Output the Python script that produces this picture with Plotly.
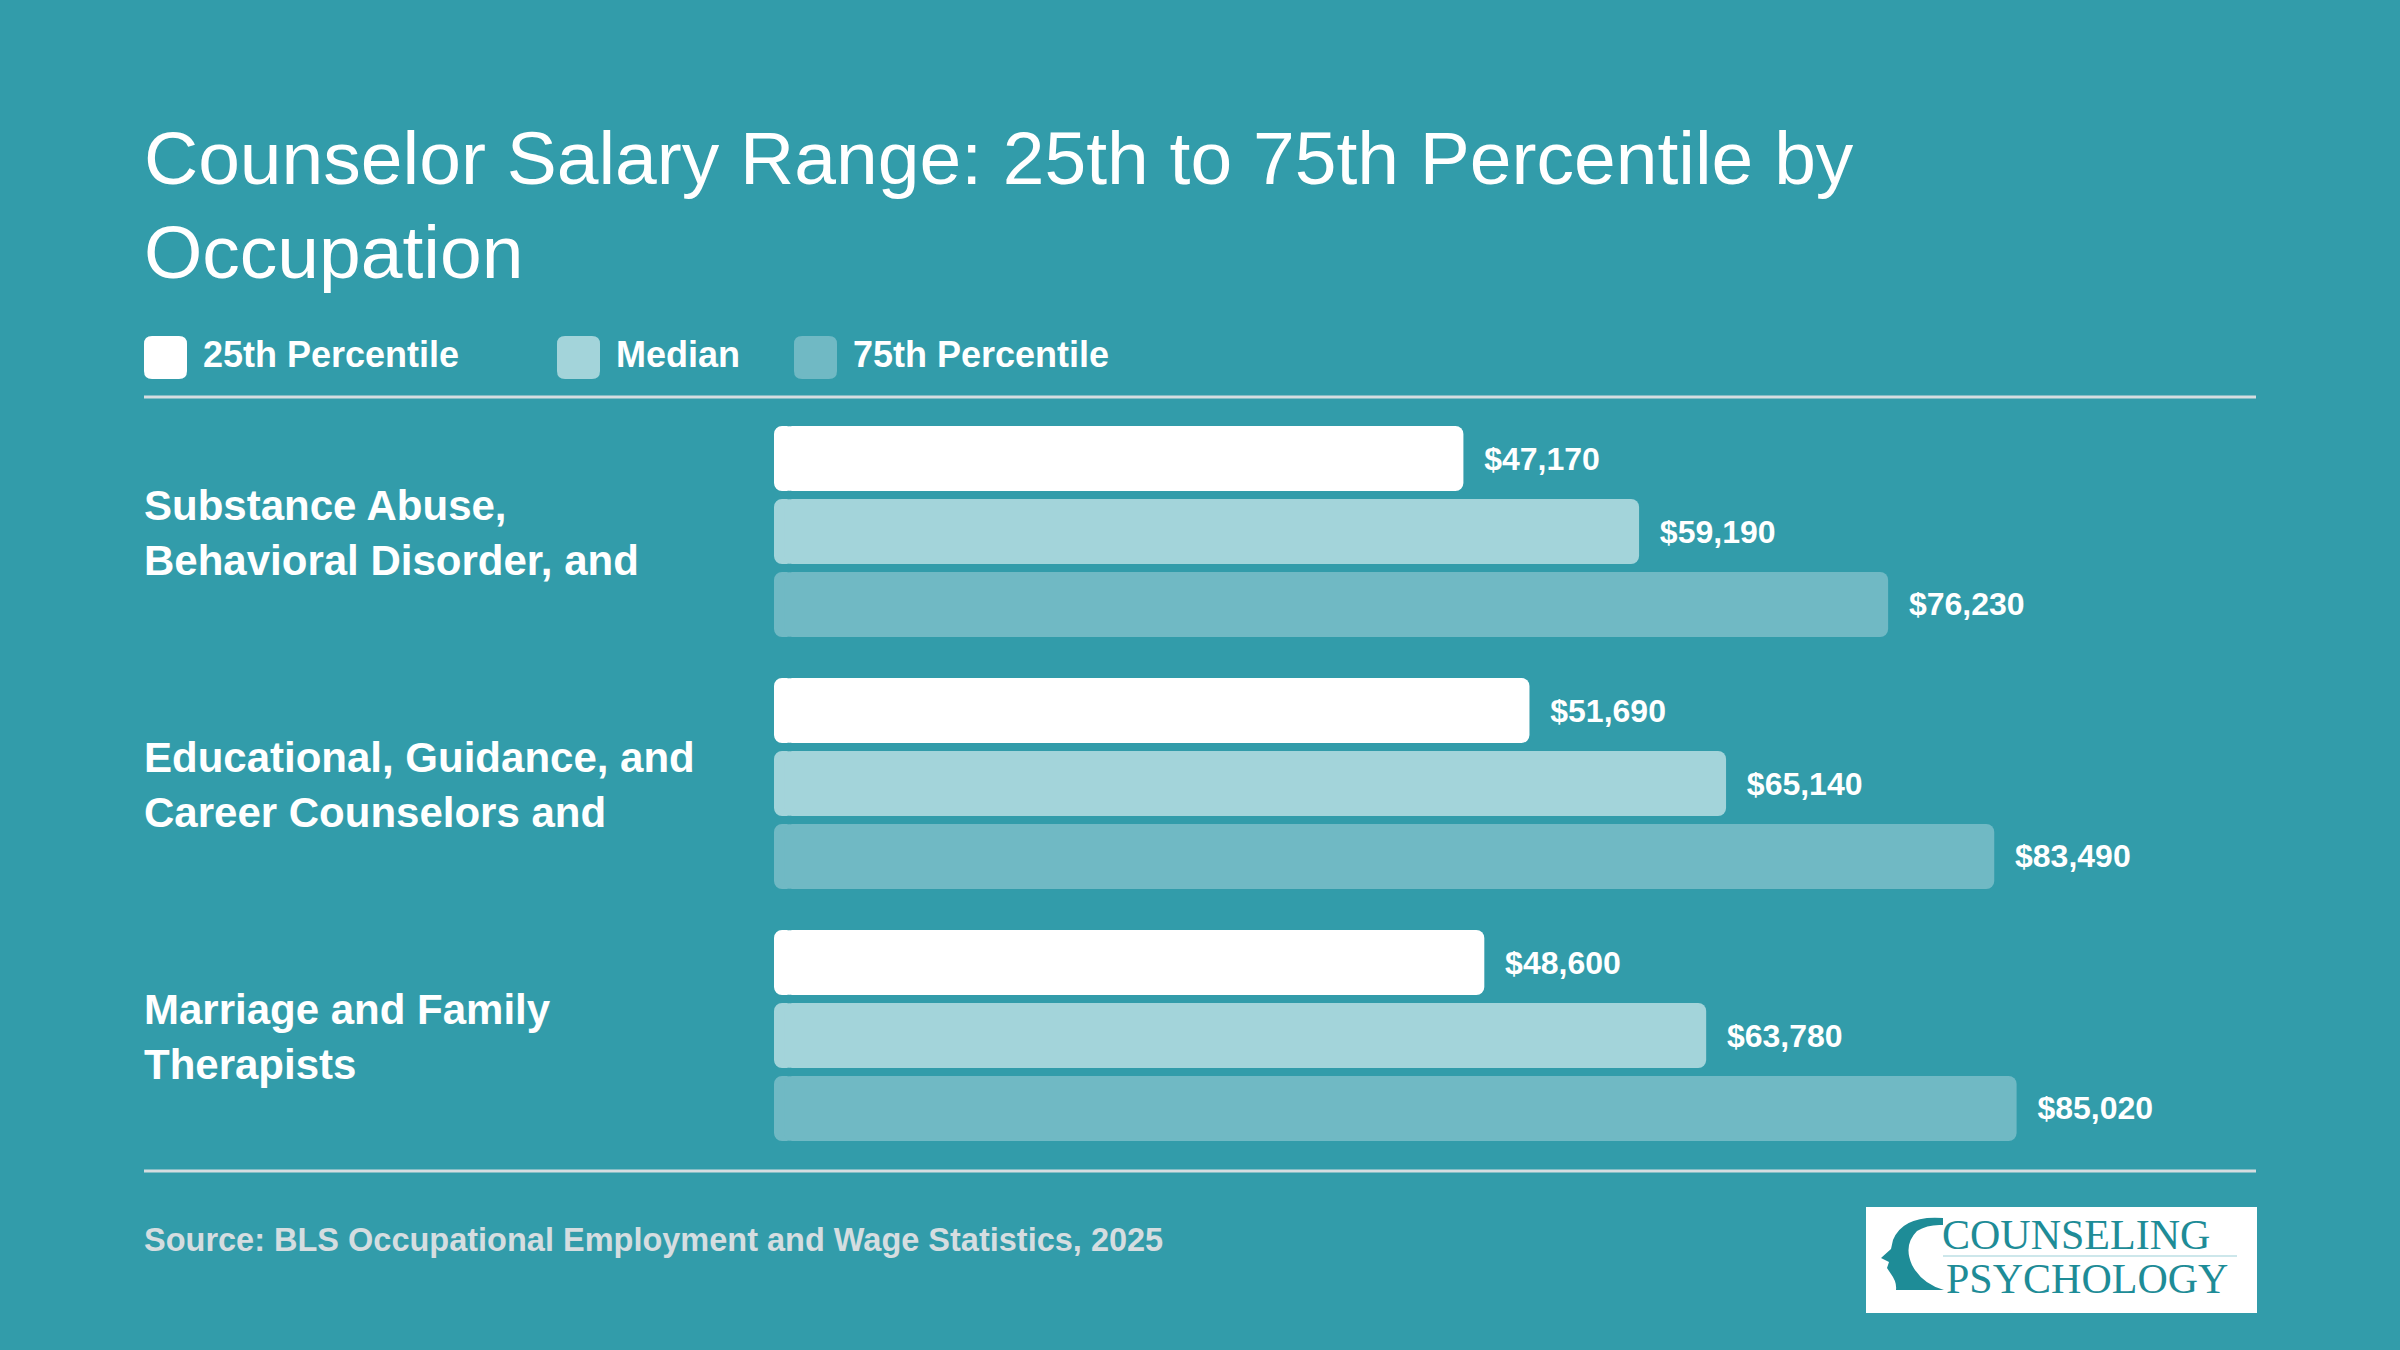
import plotly.graph_objects as go

# ---------------- data ----------------
title_lines = ["Counselor Salary Range: 25th to 75th Percentile by", "Occupation"]
occupation_lines = [
    ["Substance Abuse,", "Behavioral Disorder, and"],
    ["Educational, Guidance, and", "Career Counselors and"],
    ["Marriage and Family", "Therapists"],
]
occupations = [" ".join(l) for l in occupation_lines]
series_names = ["25th Percentile", "Median", "75th Percentile"]
p25 = [47170, 51690, 48600]
median = [59190, 65140, 63780]
p75 = [76230, 83490, 85020]
source_text = "Source: BLS Occupational Employment and Wage Statistics, 2025"
logo_lines = ["COUNSELING", "PSYCHOLOGY"]

# ---------------- style ----------------
W, H = 2400, 1350
BG = "#329CAA"
COLORS = ["#FFFFFF", "#A3D4DA", "#70B9C4"]
RULE = "#D5DDE0"
LOGO_TEAL = "#1E8C97"
SANS = "Liberation Sans, Arial, Helvetica, sans-serif"
SERIF = "Liberation Serif, Times New Roman, serif"
X_MAX = 101400          # x-axis range
CAP = 1400              # length (in axis units) of the rounded left cap piece


def X(px):
    return px / W


def Y(py):
    return 1 - py / H


def rrect(x0, y0, x1, y1, r):
    """rounded rectangle path in paper coords from pixel coords"""
    def p(x, y):
        return f"{X(x)},{Y(y)}"
    return (f"M {p(x0 + r, y0)} L {p(x1 - r, y0)} Q {p(x1, y0)} {p(x1, y0 + r)} "
            f"L {p(x1, y1 - r)} Q {p(x1, y1)} {p(x1 - r, y1)} "
            f"L {p(x0 + r, y1)} Q {p(x0, y1)} {p(x0, y1 - r)} "
            f"L {p(x0, y0 + r)} Q {p(x0, y0)} {p(x0 + r, y0)} Z")


fig = go.Figure()
for k, (name, vals, col) in enumerate(zip(series_names, [p25, median, p75], COLORS)):
    grp = f"g{k}"
    # left rounded cap: drawn from CAP back to 0 so its rounded end sits at the axis origin
    fig.add_trace(go.Bar(
        y=occupations, x=[-CAP] * len(vals), base=[CAP] * len(vals),
        orientation="h", offsetgroup=grp, name=name,
        marker=dict(color=col, cornerradius=8, line=dict(width=0)),
        hoverinfo="skip", showlegend=False,
    ))
    # main bar: from CAP/2 to the value (rounded at the value end)
    fig.add_trace(go.Bar(
        y=occupations, x=[v - CAP / 2 for v in vals], base=[CAP / 2] * len(vals),
        orientation="h", offsetgroup=grp, name=name,
        customdata=vals,
        marker=dict(color=col, cornerradius=8, line=dict(width=0)),
        texttemplate="\u00a0\u00a0%{customdata:$,}", textposition="outside",
        textfont=dict(family=SANS, size=32, color="white", weight=700),
        constraintext="none", cliponaxis=False, hoverinfo="skip",
        showlegend=False,
    ))

plot_top, plot_bot = 405.5, 1161.5
fig.update_layout(
    width=W, height=H,
    margin=dict(l=0, r=0, t=0, b=0),
    paper_bgcolor=BG, plot_bgcolor=BG,
    barmode="group", bargap=0.131, bargroupgap=0.11,
    xaxis=dict(domain=[X(774), X(2256)], range=[0, X_MAX], visible=False, fixedrange=True),
    yaxis=dict(domain=[Y(plot_bot), Y(plot_top)], range=[2.5, -0.5], visible=False,
               type="category", fixedrange=True),
    font=dict(family=SANS, color="white"),
    showlegend=False,
)

annotations = []
shapes = []

# title
title_mid = [157.5, 251.5]
for txt, ym in zip(title_lines, title_mid):
    annotations.append(dict(text=txt, xref="paper", yref="paper", x=X(142), y=Y(ym),
                            xanchor="left", yanchor="middle", showarrow=False,
                            font=dict(family=SANS, size=75, color="white")))

# custom legend
legend_x = [144, 557, 794]
for name, col, lx in zip(series_names, COLORS, legend_x):
    shapes.append(dict(type="path", xref="paper", yref="paper",
                       path=rrect(lx, 336, lx + 43, 379, 8),
                       fillcolor=col, line=dict(width=0)))
    annotations.append(dict(text=name, xref="paper", yref="paper", x=X(lx + 57), y=Y(354),
                            xanchor="left", yanchor="middle", showarrow=False,
                            font=dict(family=SANS, size=36, color="white", weight=700)))

# rules
for yy in [397, 1171]:
    shapes.append(dict(type="line", xref="paper", yref="paper", x0=X(144), x1=X(2256),
                       y0=Y(yy), y1=Y(yy), line=dict(color=RULE, width=3)))

# category labels
for occ, lines in zip(occupations, occupation_lines):
    annotations.append(dict(text="<br>".join(lines), xref="paper", yref="y", x=X(142), y=occ,
                            xanchor="left", yanchor="middle", align="left", showarrow=False,
                            yshift=-1,
                            font=dict(family=SANS, size=42, color="white", weight=700)))

# source
annotations.append(dict(text=source_text, xref="paper", yref="paper", x=X(142), y=Y(1240),
                        xanchor="left", yanchor="middle", showarrow=False,
                        font=dict(family=SANS, size=32.5, color=RULE, weight=700)))

# logo
shapes.append(dict(type="rect", xref="paper", yref="paper", x0=X(1866), x1=X(2257),
                   y0=Y(1313), y1=Y(1207), fillcolor="white", line=dict(width=0)))
head = [(1943, 1218), ("Q", (1903, 1215), (1893, 1240)), (1891, 1249), (1881, 1258),
        (1889, 1262), (1887, 1268), (1891, 1274), ("Q", (1897, 1282), (1896, 1290)),
        (1944, 1290), ("Q", (1922, 1284), (1912, 1265)), ("Q", (1903, 1245), (1917, 1231)),
        ("Q", (1928, 1224), (1943, 1225))]
path = ""
for i, seg in enumerate(head):
    if i == 0:
        path += f"M {X(seg[0])},{Y(seg[1])} "
    elif seg[0] == "Q":
        (cx, cy), (ex, ey) = seg[1], seg[2]
        path += f"Q {X(cx)},{Y(cy)} {X(ex)},{Y(ey)} "
    else:
        path += f"L {X(seg[0])},{Y(seg[1])} "
path += "Z"
shapes.append(dict(type="path", xref="paper", yref="paper", path=path,
                   fillcolor=LOGO_TEAL, line=dict(width=0)))
shapes.append(dict(type="line", xref="paper", yref="paper", x0=X(1943), x1=X(2237),
                   y0=Y(1256), y1=Y(1256), line=dict(color="#CDE7EB", width=2)))
for txt, lx, ym in zip(logo_lines, [1940, 1944], [1235, 1278.5]):
    annotations.append(dict(text=txt, xref="paper", yref="paper", x=X(lx), y=Y(ym),
                            xanchor="left", yanchor="middle", showarrow=False,
                            font=dict(family=SERIF, size=42, color=LOGO_TEAL)))

fig.update_layout(annotations=annotations, shapes=shapes)
fig.write_html("out.html")
